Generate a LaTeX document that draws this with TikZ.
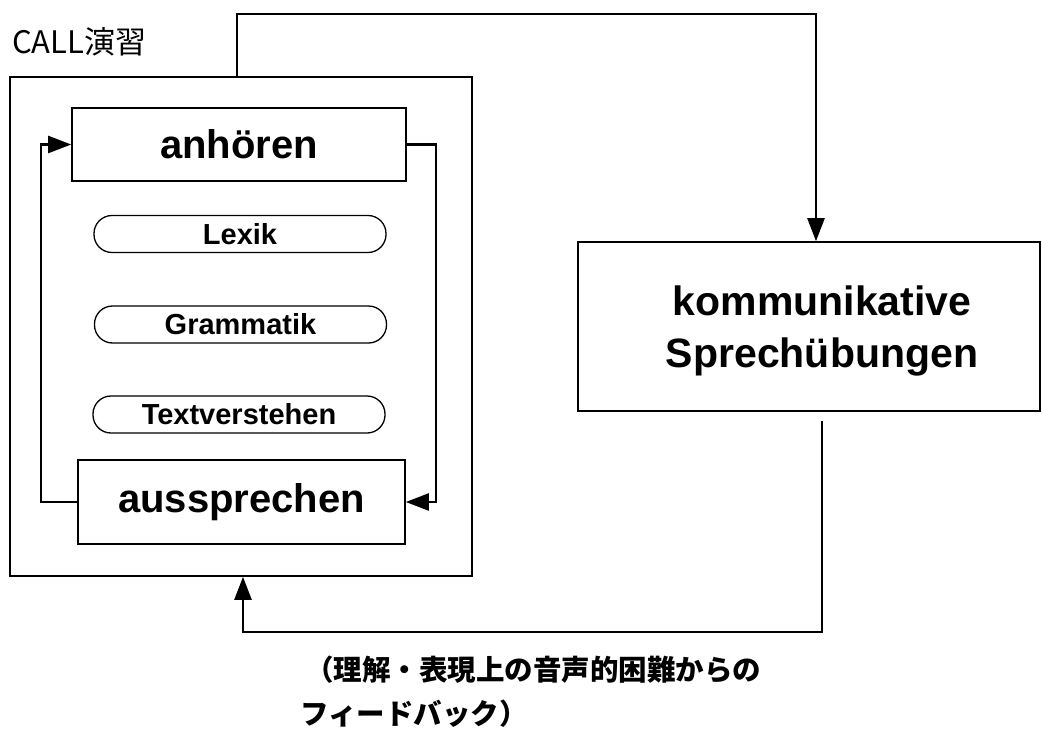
\documentclass[tikz,border=0pt]{standalone}
\usepackage{fontspec}
\setmainfont{Liberation Sans}
\newfontfamily\cjk{Noto Sans CJK JP}
\usetikzlibrary{arrows.meta}
\begin{document}
\begin{tikzpicture}[x=1pt,y=-1pt,
  box/.style={draw,line width=1.6pt,inner sep=0pt},
  pill/.style={draw,line width=1.3pt,rounded corners=18pt,minimum width=292pt,minimum height=37pt,inner sep=0pt,font=\fontsize{29}{30}\selectfont\bfseries},
  conn/.style={line width=2.4pt,-{Triangle[length=23pt,width=17pt]}},
  bigtext/.style={font=\fontsize{40}{44}\selectfont\bfseries},
  cjktext/.style={font=\cjk\bfseries\fontsize{28.5}{30}\selectfont,anchor=west,inner sep=0pt}
  ]
\useasboundingbox (0,0) rectangle (1042,736);
% outer CALL box
\node[box, minimum width=462pt, minimum height=499pt] (call) at (241,326.5) {};
\node[anchor=west, inner sep=0pt, font=\cjk\fontsize{31}{33}\selectfont] (lbl) at (12,42) {CALL演習};
% inner boxes
\node[box, minimum width=334pt, minimum height=73pt, bigtext] (anh) at (239,144.5) {anhören};
\node[box, minimum width=327pt, minimum height=84pt, bigtext] (aus) at (241.5,502) {aussprechen};
% pills
\node[pill] (lex) at (240,234) {Lexik};
\node[pill] (gra) at (240.5,324.5) {Grammatik};
\node[pill] (txt) at (239,414.5) {Textverstehen};
% right box
\node[box, minimum width=462pt, minimum height=169pt] (komm) at (809,326.5) {};
\node[align=center, inner sep=0pt, font=\fontsize{41}{52}\selectfont\bfseries] (kommtxt) at (822,331) {kommunikative\\Sprechübungen};
% connectors
\coordinate (topc) at (816,14);
\draw[conn] ([xshift=-4pt]call.north) |- (topc) -- (topc |- komm.north);
\draw[conn] (aus.west) -- ++(-36,0) |- (anh.west);
\draw[conn] (anh.east) -- ++(29,0) |- (aus.east);
\coordinate (fb) at (243,632);
\draw[conn] ([shift={(13,9)}]komm.south) |- (fb) -- (fb |- call.south);
% feedback text
\node[cjktext] (fb1) at (305,670) {（理解・表現上の音声的困難からの};
\node[cjktext] (fb2) at (300,714) {フィードバック）};
\end{tikzpicture}
\end{document}
